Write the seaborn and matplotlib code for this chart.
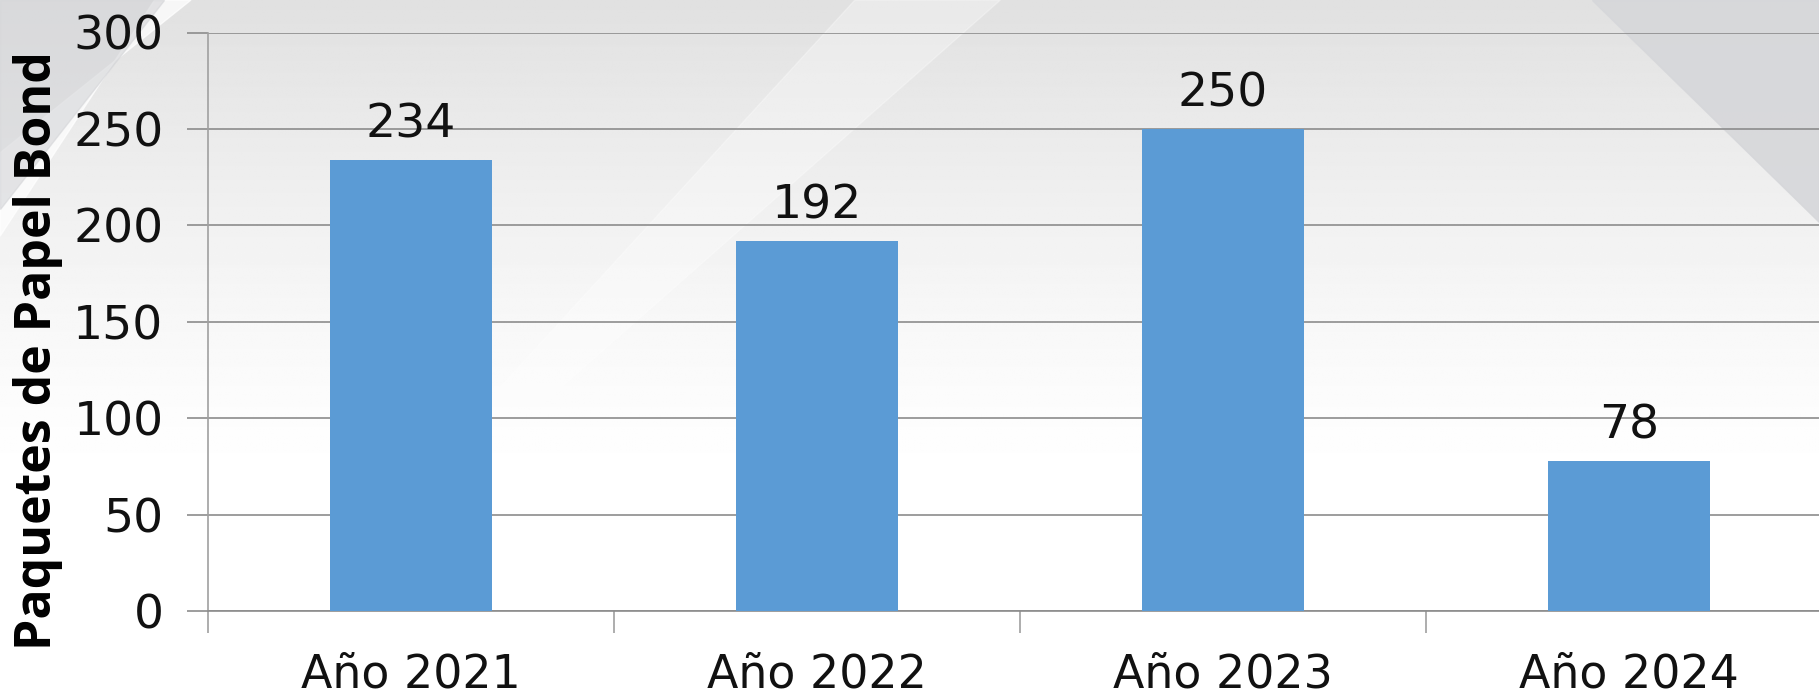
import numpy as np
import pandas as pd
import matplotlib
matplotlib.use("Agg")
import matplotlib.pyplot as plt
import seaborn as sns
from matplotlib.patches import Polygon

categories = ["Año 2021", "Año 2022", "Año 2023", "Año 2024"]
values = [234, 192, 250, 78]
y_ticks = [0, 50, 100, 150, 200, 250, 300]
y_label = "Paquetes de Papel Bond"

sns.set_theme(style="white")
plt.rcParams['font.family'] = ['DejaVu Sans']

W, H = 1819, 695
fig = plt.figure(figsize=(W / 100, H / 100), dpi=100)

# background: light grey at the top fading to white at the bottom
bg = fig.add_axes([0, 0, 1, 1], zorder=-10)
yy = np.linspace(0, 1, 300)[:, None]   # 0 = bottom, 1 = top
xx = np.linspace(0, 1, 600)[None, :]
grad = 1.0 - 0.12 * np.clip((yy - 0.3) / 0.7, 0, 1) ** 1.3 + 0 * xx
bg.imshow(grad, cmap="gray", vmin=0, vmax=1, extent=[0, 1, 0, 1], aspect="auto", origin="lower")
bg.add_patch(Polygon([[0, 0.66], [0, 0.78], [0.105, 1.0], [0.085, 1.0]], closed=True, color="white", alpha=0.75))
bg.add_patch(Polygon([[0, 0.70], [0, 1.0], [0.09, 1.0]], closed=True, color="#d4d5d8", alpha=0.6))
bg.add_patch(Polygon([[0.26, 0.40], [0.29, 0.40], [0.55, 1.0], [0.47, 1.0]], closed=True, color="white", alpha=0.3))
bg.add_patch(Polygon([[0.875, 1.0], [1.0, 1.0], [1.0, 0.68]], closed=True, color="#d6d7da", alpha=0.9))
bg.set_xlim(0, 1); bg.set_ylim(0, 1)
bg.axis("off")

ax = fig.add_axes([208 / W, 84 / H, 1624 / W, 578.5 / H])
ax.set_facecolor("none")
df = pd.DataFrame({"cat": categories, "val": values})
sns.barplot(data=df, x="cat", y="val", color="#5b9bd5", width=0.4, saturation=1,
            linewidth=0, ax=ax, zorder=3)

ax.set_ylim(0, 300)
ax.set_xlim(-0.5, 3.5)
ax.set_yticks(y_ticks)
ax.set_yticklabels([str(t) for t in y_ticks], fontsize=34, color="#111111")
ax.yaxis.grid(True, color="#8c8c8c", linewidth=1.2, zorder=0)
ax.set_axisbelow(True)
ax.tick_params(axis="y", which="major", length=15, color="#8c8c8c", width=1.2, pad=17, left=True)

ax.set_xticks(range(len(categories)))
ax.set_xticklabels(categories, fontsize=33, color="#111111")
ax.tick_params(axis="x", which="major", length=0, pad=30)
ax.set_xticks([-0.5, 0.5, 1.5, 2.5, 3.5], minor=True)
ax.tick_params(axis="x", which="minor", length=16, color="#a0a0a0", width=1.2, bottom=True)

for s in ["top", "right"]:
    ax.spines[s].set_visible(False)
ax.spines["left"].set_color("#a0a0a0")
ax.spines["left"].set_linewidth(1.2)
ax.spines["bottom"].set_color("#8c8c8c")
ax.spines["bottom"].set_linewidth(1.2)

for c in ax.containers:
    ax.bar_label(c, labels=[str(v) for v in values], fontsize=34, padding=9, color="#111111")

ax.set_xlabel("")
ax.set_ylabel(y_label, fontsize=36, fontweight="bold", color="#000000",
              family=["Open Sans", "DejaVu Sans"])
ax.yaxis.set_label_coords(-0.089, 0.45)

fig.savefig("out.png", dpi=100)
